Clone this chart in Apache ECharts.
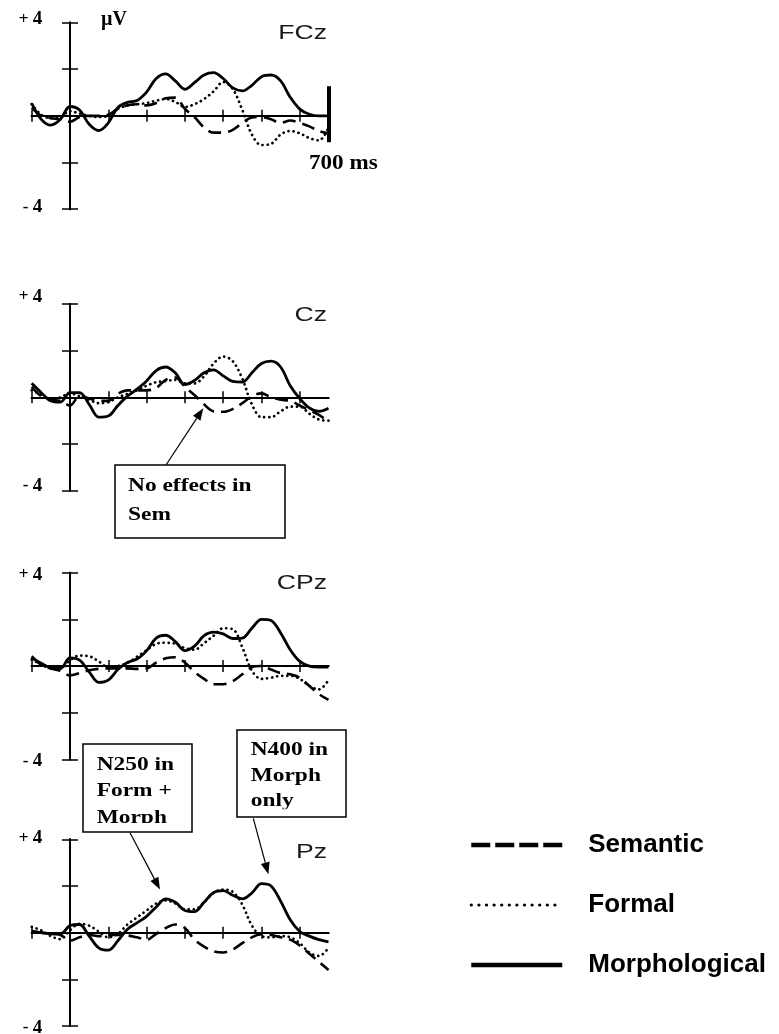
<!DOCTYPE html>
<html><head><meta charset="utf-8">
<script src="https://cdn.jsdelivr.net/npm/echarts@6/dist/echarts.min.js"></script>
<style>html,body{margin:0;padding:0;background:#fff}#c{width:779px;height:1034px}</style>
</head><body><div id="c"></div>
<script>
// ---------------- data ----------------
const times = [-100,-75,-50,-25,0,25,50,75,100,125,150,175,200,225,250,275,300,325,350,375,400,425,450,475,500,525,550,575,600,625,650,675];
const xTicks = [-100,0,100,200,300,400,500,600];
const yTicks = [-4,-2,0,2,4];
const electrodes = ['FCz','Cz','CPz','Pz'];
const seriesNames = ['Semantic','Formal','Morphological'];

const fczSemantic = [0.35,0,-0.1,-0.15,-0.25,-0.05,0,0,0.05,0.3,0.45,0.5,0.45,0.55,0.75,0.78,0.3,-0.05,-0.5,-0.72,-0.72,-0.6,-0.3,-0.07,-0.05,-0.15,-0.3,-0.2,-0.3,-0.45,-0.65,-0.75];
const fczFormal   = [0.5,0.05,-0.1,-0.05,0.2,0.1,0,-0.05,0,0.3,0.44,0.5,0.55,0.65,0.72,0.6,0.38,0.5,0.72,1.05,1.45,1.15,0.25,-0.8,-1.25,-1.2,-0.8,-0.65,-0.75,-0.95,-1.05,-0.5];
const fczMorph    = [0.54,-0.15,-0.4,-0.15,0.4,0.25,-0.36,-0.63,-0.3,0.36,0.58,0.66,1.02,1.6,1.8,1.5,1.14,1.42,1.75,1.85,1.6,1.2,1.07,1.31,1.68,1.75,1.5,0.8,0.29,0.07,0,0];

const czSemantic = [0.45,0.05,-0.1,-0.15,-0.35,0.05,-0.05,-0.15,-0.15,0.15,0.3,0.3,0.3,0.4,0.75,0.85,0.45,0.1,-0.3,-0.6,-0.62,-0.5,-0.25,0.05,0.17,0,-0.1,-0.15,-0.35,-0.55,-0.75,-1.05];
const czFormal   = [0.3,0.12,-0.1,0,0.17,0.05,-0.1,-0.25,-0.2,0,0.15,0.3,0.5,0.65,0.7,0.75,0.6,0.6,0.9,1.45,1.75,1.55,0.8,-0.3,-0.85,-0.85,-0.6,-0.4,-0.4,-0.7,-0.95,-1.0];
const czMorph    = [0.6,0.2,-0.15,-0.2,0.2,0.2,-0.3,-0.85,-0.8,-0.35,0.05,0.35,0.7,1.15,1.3,1.05,0.55,0.72,1.05,1.18,0.92,0.68,0.65,1.05,1.45,1.55,1.3,0.5,-0.05,-0.45,-0.6,-0.47];

const cpzSemantic = [0.42,0.05,-0.1,-0.2,-0.4,-0.3,-0.18,-0.12,-0.1,-0.1,-0.1,-0.12,-0.1,0.15,0.33,0.38,0.15,-0.25,-0.55,-0.78,-0.78,-0.65,-0.35,-0.05,0,-0.15,-0.3,-0.35,-0.5,-0.85,-1.2,-1.45];
const cpzFormal   = [0.28,0.07,-0.1,-0.1,0.25,0.45,0.42,0.2,-0.05,0,0.14,0.4,0.68,0.95,1.0,0.95,0.77,0.7,0.98,1.3,1.62,1.58,0.8,-0.2,-0.55,-0.5,-0.42,-0.42,-0.55,-0.85,-1.0,-0.6];
const cpzMorph    = [0.35,0.12,-0.07,-0.1,0.35,0.25,-0.25,-0.7,-0.6,-0.15,0.15,0.3,0.65,1.2,1.32,1.05,0.66,0.85,1.3,1.45,1.38,1.18,1.2,1.62,2.0,1.95,1.42,0.7,0.2,0,-0.04,-0.04];

const pzSemantic = [0.07,0,-0.05,-0.1,-0.35,-0.2,-0.1,-0.15,-0.1,-0.1,-0.12,-0.2,-0.3,-0.05,0.2,0.35,0.2,-0.3,-0.6,-0.8,-0.85,-0.72,-0.45,-0.2,-0.07,-0.1,-0.2,-0.3,-0.55,-0.9,-1.25,-1.6];
const pzFormal   = [0.25,0.1,-0.15,-0.28,0.1,0.38,0.3,0.05,-0.2,-0.05,0.35,0.65,0.95,1.25,1.38,1.25,1.0,1.0,1.3,1.7,1.85,1.75,1.2,0.3,-0.15,-0.2,-0.15,-0.2,-0.45,-0.85,-1.0,-0.65];
const pzMorph    = [0.04,0,-0.05,-0.05,0.3,0.35,-0.15,-0.65,-0.75,-0.35,0.15,0.42,0.7,1.1,1.45,1.3,0.95,0.9,1.3,1.72,1.8,1.6,1.45,1.7,2.1,2.0,1.35,0.55,0.05,-0.15,-0.3,-0.4];

const panelValues = [
  [fczSemantic, fczFormal, fczMorph],
  [czSemantic, czFormal, czMorph],
  [cpzSemantic, cpzFormal, cpzMorph],
  [pzSemantic, pzFormal, pzMorph]
];
// end-of-epoch marker on FCz (ms, µV range)
const endBar = {x: 675, from: 1.27, to: -1.13};
// annotations: tip given in data units of a panel
const annotations = [
  {panel: 1, lines: ['No effects in', 'Sem'], tip: [348, -0.47]},
  {panel: 3, lines: ['N250 in', 'Form +', 'Morph'], tip: [235, 1.85]},
  {panel: 3, lines: ['N400 in', 'Morph', 'only'], tip: [518, 2.5]}
];

// ---------------- layout / style ----------------
const X_MIN = -100, X_MAX = 675;
const PLOT_LEFT = 31.7, PLOT_WIDTH = 296.8, PLOT_HEIGHT = 186.7;
const panelTops = [22.5, 304, 572.7, 839.3];
const panelLabelY = [33, 315, 583, 852];
const labelPad = [ // rich padding for "+ 4" and "- 4" labels per panel
  [[0,0,6,0],[0,0,4,0]],
  [[0,0,14,0],[0,0,10,0]],
  [[4,0,0,0],[4,0,0,0]],
  [[0,0,2,0],[4,0,0,0]]
];
const boxes = [
  {x: 115, y: 465, w: 170, h: 73, tx: 128, ty: [486.7, 515], clip: null, tail: [166, 465]},
  {x: 83, y: 744, w: 109, h: 88, tx: 96.7, ty: [765, 791.7, 818], clip: 823, tail: [130, 832.7]},
  {x: 237, y: 730, w: 109, h: 87, tx: 250.7, ty: [750, 776.7, 801.7], clip: 809.3, tail: [253.3, 818.3]}
];
const SERIF = "'Liberation Serif', 'Times New Roman', serif";
const SANS = "'Liberation Sans', Arial, sans-serif";
const lineStyles = [
  {color: '#000', width: 2.6, type: [13, 7]},
  {color: '#000', width: 2.7, type: [0.1, 5], cap: 'round'},
  {color: '#000', width: 2.8, type: 'solid'}
];

function labelRich(pad) {
  return {fontFamily: SERIF, fontWeight: 'bold', color: '#000', padding: pad};
}

const grids = [], xAxes = [], yAxes = [], series = [];
electrodes.forEach((name, i) => {
  grids.push({left: PLOT_LEFT, width: PLOT_WIDTH, top: panelTops[i], height: PLOT_HEIGHT,
              containLabel: false, outerBoundsMode: 'none'});
  [false, true].forEach(inside => {
    xAxes.push({
      type: 'value', gridIndex: i, min: X_MIN, max: X_MAX, position: 'bottom',
      axisLine: {show: true, onZero: true, lineStyle: {color: '#000', width: 2}},
      axisTick: {show: true, inside: inside, length: 6, customValues: xTicks, lineStyle: {color: '#000', width: 1.5}},
      axisLabel: {show: false}, splitLine: {show: false}
    });
    yAxes.push({
      type: 'value', gridIndex: i, min: -4, max: 4, interval: 2, position: 'left',
      axisLine: {show: true, onZero: true, lineStyle: {color: '#000', width: 2}},
      axisTick: {show: true, inside: inside, length: 8, customValues: yTicks, lineStyle: {color: '#000', width: 1.5}},
      axisLabel: inside ? {show: false} : {
        show: true, margin: -10.5, customValues: [-4, 4],
        formatter: v => v === 4 ? '{a|+ }{p|4}' : (v === -4 ? '{b|- }{q|4}' : ''),
        rich: {
          a: Object.assign(labelRich(labelPad[i][0]), {fontSize: 17}),
          p: Object.assign(labelRich(labelPad[i][0]), {fontSize: 19}),
          b: Object.assign(labelRich(labelPad[i][1]), {fontSize: 17}),
          q: Object.assign(labelRich(labelPad[i][1]), {fontSize: 19})
        }
      },
      splitLine: {show: false}
    });
  });
  seriesNames.forEach((sn, k) => {
    const s = {
      name: sn, type: 'line', xAxisIndex: 2 * i, yAxisIndex: 2 * i,
      data: times.map((t, j) => [t, panelValues[i][k][j]]),
      symbol: 'none', showSymbol: false, smooth: 0.35, silent: true,
      lineStyle: lineStyles[k], itemStyle: {color: '#000'}, z: 3 + k
    };
    if (i === 0 && k === 2) {
      s.markLine = {
        symbol: 'none', silent: true, label: {show: false},
        lineStyle: {color: '#000', width: 4, type: 'solid'},
        data: [[{coord: [endBar.x, endBar.from]}, {coord: [endBar.x, endBar.to]}]]
      };
    }
    series.push(s);
  });
});

const chart = echarts.init(document.getElementById('c'), null, {renderer: 'canvas'});
chart.setOption({
  animation: false,
  backgroundColor: '#fff',
  grid: grids, xAxis: xAxes, yAxis: yAxes, series: series,
  legend: {
    orient: 'vertical', left: 469, top: 832, padding: 0,
    itemWidth: 91, itemHeight: 26, itemGap: 34, selectedMode: false,
    itemStyle: {opacity: 0},
    data: [
      {name: 'Semantic', lineStyle: {type: [19, 5], width: 4.5, color: '#000'}},
      {name: 'Formal', lineStyle: {type: [0.1, 7.5], width: 3.2, cap: 'round', color: '#000'}},
      {name: 'Morphological', lineStyle: {type: 'solid', width: 4.5, color: '#000'}}
    ],
    textStyle: {fontFamily: SANS, fontWeight: 'bold', fontSize: 26, color: '#000', padding: [0, 0, 0, 21]}
  }
});

// ---------------- texts & annotations ----------------
function txt(text, x, y, opt) {
  opt = opt || {};
  return {
    type: 'text', x: x, y: y, scaleX: opt.scaleX || 1, z: 100,
    style: {
      text: text, fill: opt.fill || '#000',
      font: (opt.weight || 'bold') + ' ' + (opt.size || 18) + 'px ' + (opt.family || SERIF),
      align: opt.align || 'left', verticalAlign: 'middle',
      textAlign: opt.align || 'left', textVerticalAlign: 'middle'
    }
  };
}
const g = [];
electrodes.forEach((name, i) => {
  g.push(txt(name, 327, panelLabelY[i], {family: SANS, weight: 'normal', size: 20, align: 'right', scaleX: 1.33, fill: '#1a1a1a'}));
});
g.push(txt('µV', 101, 20, {size: 20}));
g.push(txt('700 ms', 309, 164, {size: 21, scaleX: 1.1}));

annotations.forEach((a, n) => {
  const b = boxes[n];
  g.push({type: 'rect', z: 100, shape: {x: b.x, y: b.y, width: b.w, height: b.h},
          style: {fill: '#fff', stroke: '#000', lineWidth: 1.5}});
  a.lines.forEach((ln, j) => g.push(txt(ln, b.tx, b.ty[j], {size: 18, scaleX: 1.3})));
  if (b.clip) {
    g.push({type: 'rect', z: 101, shape: {x: b.x + 1, y: b.clip, width: b.w - 2, height: b.y + b.h - b.clip - 1},
            style: {fill: '#fff', stroke: null}});
  }
  const tip = chart.convertToPixel({gridIndex: a.panel}, a.tip);
  const t0 = b.tail;
  const dx = tip[0] - t0[0], dy = tip[1] - t0[1];
  const L = Math.sqrt(dx * dx + dy * dy), ux = dx / L, uy = dy / L;
  const hl = 12, hw = 4.5;
  const bx = tip[0] - ux * hl, by = tip[1] - uy * hl;
  g.push({type: 'line', z: 100, shape: {x1: t0[0], y1: t0[1], x2: bx, y2: by}, style: {stroke: '#000', lineWidth: 1.2}});
  g.push({type: 'polygon', z: 100, shape: {points: [[tip[0], tip[1]], [bx - uy * hw, by + ux * hw], [bx + uy * hw, by - ux * hw]]},
          style: {fill: '#000'}});
});
chart.setOption({graphic: g});
</script></body></html>
